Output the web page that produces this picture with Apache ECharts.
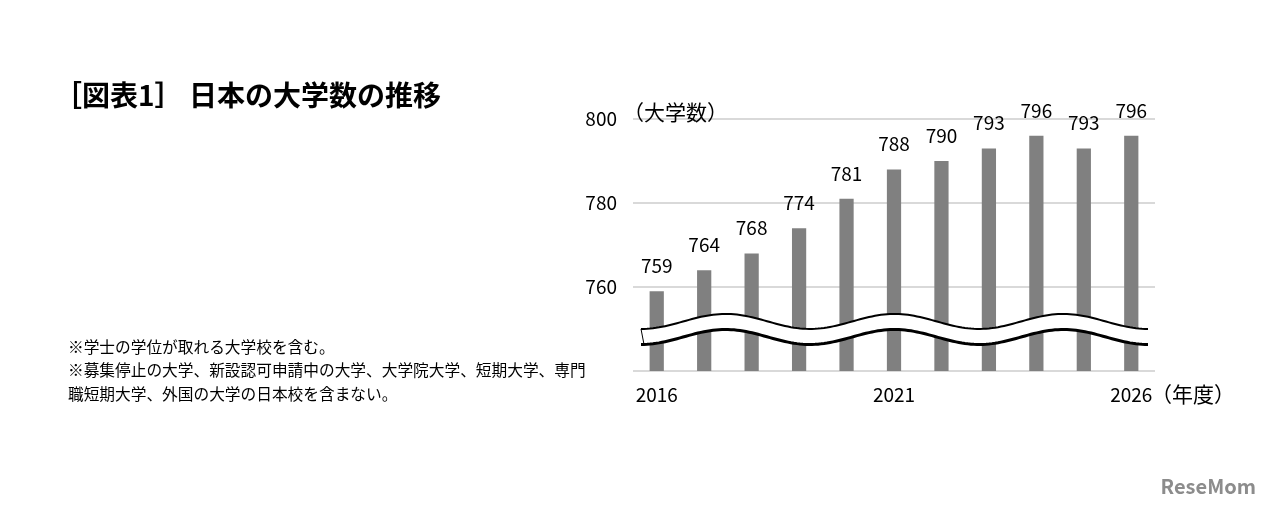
<!DOCTYPE html>
<html>
<head>
<meta charset="utf-8">
<script src="https://cdn.jsdelivr.net/npm/echarts@6/dist/echarts.min.js"></script>
<style>
html, body { margin: 0; padding: 0; background: #fff; }
#main { width: 1280px; height: 512px; }
</style>
</head>
<body>
<div id="main"></div>
<script>
var years = ['2016', '2017', '2018', '2019', '2020', '2021', '2022', '2023', '2024', '2025', '2026'];
var counts = [759, 764, 768, 774, 781, 788, 790, 793, 796, 793, 796];
var yTicks = [740, 760, 780, 800];

var FONT = '"Noto Sans CJK JP", "Noto Sans", sans-serif';
var chart = echarts.init(document.getElementById('main'));

var option = {
	backgroundColor: '#fff',
	animation: false,
	textStyle: { fontFamily: FONT },
	grid: { left: 633, right: 125, top: 119, bottom: 141 },
	xAxis: {
		type: 'category',
		data: years,
		axisLine: { show: false },
		axisTick: { show: false },
		axisLabel: {
			interval: 4,
			margin: 14,
			color: '#000',
			fontSize: 19,
			fontFamily: FONT
		}
	},
	yAxis: {
		type: 'value',
		min: yTicks[0],
		max: yTicks[yTicks.length - 1],
		interval: 20,
		axisLine: { show: false },
		axisTick: { show: false },
		splitLine: { lineStyle: { color: '#d9d9d9', width: 2 } },
		axisLabel: {
			margin: 16,
			color: '#000',
			fontSize: 19,
			fontFamily: FONT,
			formatter: function (v) {
				return v === yTicks[0] ? '' : String(v);
			}
		}
	},
	series: [
		{
			type: 'bar',
			data: counts,
			barWidth: '30%',
			itemStyle: { color: '#808080' },
			label: {
				show: true,
				position: 'top',
				distance: 16,
				color: '#000',
				fontSize: 19,
				fontFamily: FONT
			}
		}
	]
};
chart.setOption(option);

// 波線（軸の省略記号）とテキスト類
function drawExtras() {
	var x0 = 641, x1 = 1148;
	var cU = chart.convertToPixel({ yAxisIndex: 0 }, 751.8);
	var cL = chart.convertToPixel({ yAxisIndex: 0 }, 748.1);
	var amp = 7.5, period = (x1 - x0) / 3;
	var up = [], low = [];
	for (var x = x0; x <= x1 + 0.01; x += 3) {
		var t = (x - x0) / period * Math.PI * 2;
		up.push([x, cU + amp * Math.cos(t)]);
		low.push([x, cL + amp * Math.cos(t)]);
	}
	var band = up.concat(low.slice().reverse());
	chart.setOption({
		graphic: [
			{
				id: 'title', type: 'text', left: 54, top: 81,
				style: { text: '［図表1］ 日本の大学数の推移', font: 'bold 28px ' + FONT, fill: '#000' }
			},
			{
				id: 'yname', type: 'text', left: 623, top: 102,
				style: { text: '（大学数）', font: '21px ' + FONT, fill: '#000' }
			},
			{
				id: 'xname', type: 'text', left: 1151, top: 384,
				style: { text: '（年度）', font: '21px ' + FONT, fill: '#000' }
			},
			{
				id: 'note', type: 'text', left: 68, top: 335,
				style: {
					text: '※学士の学位が取れる大学校を含む。\n※募集停止の大学、新設認可申請中の大学、大学院大学、短期大学、専門\n職短期大学、外国の大学の日本校を含まない。',
					font: '15.7px ' + FONT, lineHeight: 23.5, fill: '#000'
				}
			},
			{
				id: 'logo', type: 'text', right: 24, bottom: 16,
				style: { text: 'ReseMom', font: 'bold 20px ' + FONT, fill: '#8c8c8c' }
			},
			{ id: 'band', type: 'polygon', z: 100, shape: { points: band }, style: { fill: '#fff', stroke: null } },
			{ id: 'cap', type: 'line', z: 101, shape: { x1: up[0][0], y1: up[0][1], x2: low[0][0] + 3, y2: low[0][1] }, style: { stroke: '#000', lineWidth: 1 } },
			{ id: 'waveUp', type: 'polyline', z: 101, shape: { points: up }, style: { stroke: '#000', lineWidth: 2, fill: null } },
			{ id: 'waveLow', type: 'polyline', z: 101, shape: { points: low }, style: { stroke: '#000', lineWidth: 3, fill: null } }
		]
	});
}
drawExtras();
</script>
</body>
</html>
